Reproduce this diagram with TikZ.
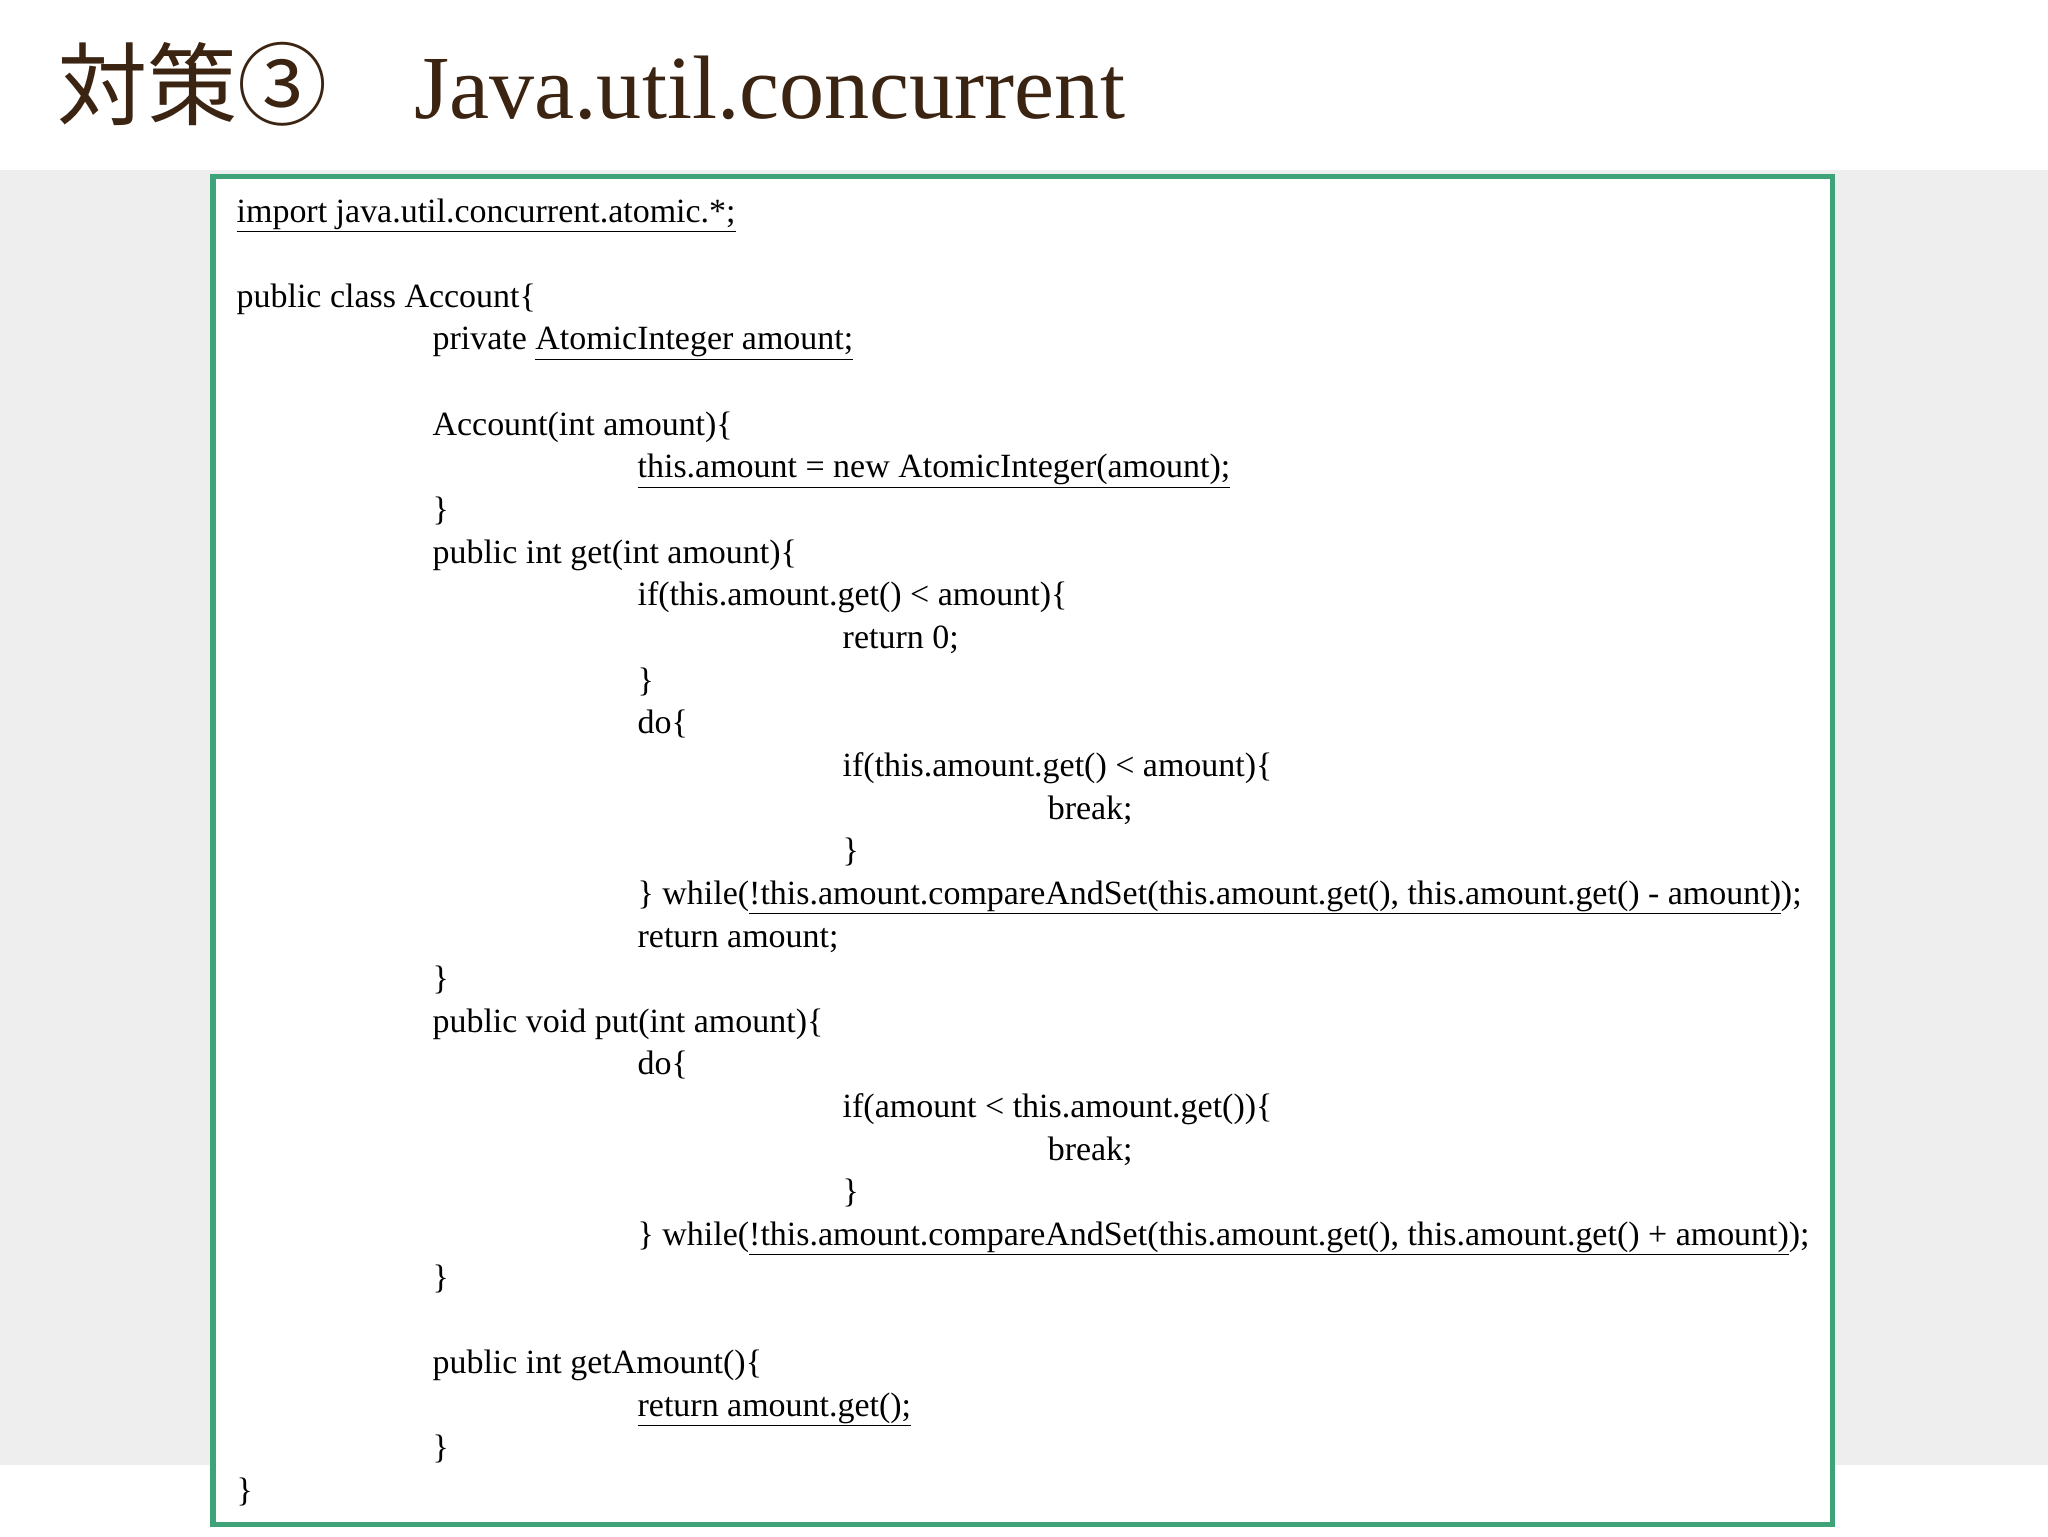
\documentclass[tikz,border=0pt]{standalone}
\usepackage{fontspec}
\setmainfont{Liberation Serif}
\newfontfamily\cjk{Noto Sans CJK JP}
\definecolor{titlec}{HTML}{3B2412}
\definecolor{boxc}{HTML}{3FA37A}
\definecolor{bgc}{HTML}{EEEEEE}
\begin{document}
\begin{tikzpicture}[x=1pt,y=-1pt,
  code/.style={anchor=base west,inner sep=0pt,font=\fontsize{26}{26}\selectfont}]
\useasboundingbox (0,0) rectangle (1568,1176);
\fill[white] (0,0) rectangle (1568,1176);
\fill[bgc] (0,130) rectangle (1568,1122);
\node[anchor=base west,inner sep=0pt,text=titlec,font=\fontsize{69}{69}\selectfont] (title) at (44,91) {{\cjk 対策③}\hspace{66pt}Java.util.concurrent};
\draw[boxc,line width=4pt,fill=white] (163,135) rectangle (1403,1167);
\def\dy{32.65}
\newcommand\cl[3]{\node[code] (l#1) at ({#2},{170+\dy*(#1)}) {#3};}
\def\xa{181}\def\xb{331}\def\xc{488}\def\xd{645}\def\xe{802}
\cl{0}{\xa}{\underline{import java.util.concurrent.atomic.*;}}
\cl{2}{\xa}{public class Account\{}
\cl{3}{\xb}{private \underline{AtomicInteger amount;}}
\cl{5}{\xb}{Account(int amount)\{}
\cl{6}{\xc}{\underline{this.amount = new AtomicInteger(amount);}}
\cl{7}{\xb}{\}}
\cl{8}{\xb}{public int get(int amount)\{}
\cl{9}{\xc}{if(this.amount.get() < amount)\{}
\cl{10}{\xd}{return 0;}
\cl{11}{\xc}{\}}
\cl{12}{\xc}{do\{}
\cl{13}{\xd}{if(this.amount.get() < amount)\{}
\cl{14}{\xe}{break;}
\cl{15}{\xd}{\}}
\cl{16}{\xc}{\} while(\underline{!this.amount.compareAndSet(this.amount.get(), this.amount.get() - amount)});}
\cl{17}{\xc}{return amount;}
\cl{18}{\xb}{\}}
\cl{19}{\xb}{public void put(int amount)\{}
\cl{20}{\xc}{do\{}
\cl{21}{\xd}{if(amount < this.amount.get())\{}
\cl{22}{\xe}{break;}
\cl{23}{\xd}{\}}
\cl{24}{\xc}{\} while(\underline{!this.amount.compareAndSet(this.amount.get(), this.amount.get() + amount)});}
\cl{25}{\xb}{\}}
\cl{27}{\xb}{public int getAmount()\{}
\cl{28}{\xc}{\underline{return amount.get();}}
\cl{29}{\xb}{\}}
\cl{30}{\xa}{\}}
\end{tikzpicture}
\end{document}
